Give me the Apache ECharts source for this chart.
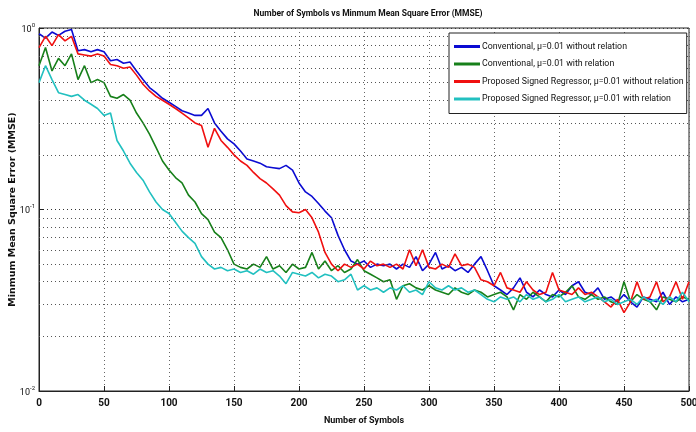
<!DOCTYPE html>
<html>
<head>
<meta charset="utf-8">
<script src="https://cdn.jsdelivr.net/npm/echarts@6/dist/echarts.min.js"></script>
<style>
  html, body { margin: 0; padding: 0; background: #fff; }
  #chart { width: 696px; height: 432px; }
</style>
</head>
<body>
<div id="chart"></div>
<script>
// Number of symbols, sampled every 5 symbols (0..500)
const symbols = Array.from({ length: 101 }, (_, i) => i * 5);

const seriesNames = [
  'Conventional, \u03bc=0.01 without relation',
  'Conventional, \u03bc=0.01 with relation',
  'Proposed Signed Regressor, \u03bc=0.01 without relation',
  'Proposed Signed Regressor, \u03bc=0.01 with relation'
];

const convWithout = [
  0.93, 0.88, 0.95, 0.91, 0.96, 0.98, 0.75, 0.76, 0.74, 0.76,
  0.74, 0.66, 0.67, 0.64, 0.65, 0.58, 0.52, 0.47, 0.44, 0.41,
  0.39, 0.37, 0.35, 0.34, 0.33, 0.33, 0.36, 0.30, 0.27, 0.245,
  0.23, 0.21, 0.19, 0.185, 0.18, 0.172, 0.17, 0.168, 0.175, 0.165,
  0.14, 0.125, 0.118, 0.108, 0.098, 0.09, 0.072, 0.06, 0.052, 0.05,
  0.052, 0.048, 0.05, 0.049, 0.05, 0.047, 0.05, 0.048, 0.055, 0.046,
  0.05, 0.058, 0.047, 0.049, 0.046, 0.048, 0.045, 0.05, 0.055, 0.046,
  0.038, 0.036, 0.034, 0.037, 0.042, 0.035, 0.033, 0.036, 0.034, 0.033,
  0.036, 0.034, 0.038, 0.04, 0.035, 0.034, 0.037, 0.032, 0.033, 0.031,
  0.034, 0.031, 0.029, 0.033, 0.032, 0.031, 0.035, 0.03, 0.033, 0.031,
  0.032
];

const convWith = [
  0.62, 0.78, 0.58, 0.68, 0.62, 0.72, 0.52, 0.62, 0.50, 0.52,
  0.50, 0.42, 0.41, 0.43, 0.40, 0.34, 0.30, 0.26, 0.22, 0.185,
  0.165, 0.15, 0.14, 0.12, 0.11, 0.095, 0.088, 0.075, 0.07, 0.06,
  0.05, 0.048, 0.047, 0.05, 0.048, 0.055, 0.047, 0.049, 0.045, 0.05,
  0.047, 0.048, 0.058, 0.047, 0.052, 0.046, 0.049, 0.045, 0.047, 0.053,
  0.046, 0.044, 0.042, 0.04, 0.041, 0.032, 0.038, 0.039, 0.037, 0.036,
  0.038, 0.036, 0.035, 0.034, 0.037, 0.035, 0.034, 0.036, 0.035, 0.033,
  0.034, 0.035, 0.033, 0.028, 0.034, 0.032, 0.035, 0.033, 0.031, 0.034,
  0.033, 0.035, 0.038, 0.033, 0.032, 0.034, 0.032, 0.033, 0.031, 0.030,
  0.04, 0.031, 0.034, 0.032, 0.031, 0.028, 0.033, 0.032, 0.031, 0.033,
  0.032
];

const signedWithout = [
  0.78, 0.90, 0.80, 0.92, 0.85, 0.90, 0.72, 0.71, 0.70, 0.72,
  0.70, 0.63, 0.62, 0.60, 0.61, 0.55, 0.49, 0.45, 0.42, 0.40,
  0.38, 0.36, 0.34, 0.32, 0.30, 0.29, 0.22, 0.28, 0.24, 0.22,
  0.20, 0.185, 0.175, 0.16, 0.148, 0.14, 0.13, 0.12, 0.105, 0.097,
  0.096, 0.10, 0.09, 0.075, 0.058, 0.05, 0.046, 0.05, 0.048, 0.05,
  0.047, 0.052, 0.049, 0.05, 0.048, 0.05, 0.047, 0.06, 0.049, 0.06,
  0.048, 0.047, 0.05, 0.048, 0.057, 0.049, 0.05, 0.048, 0.041, 0.04,
  0.038, 0.045, 0.037, 0.036, 0.035, 0.04, 0.036, 0.034, 0.035, 0.045,
  0.036, 0.035, 0.034, 0.037, 0.034, 0.035, 0.033, 0.031, 0.029, 0.032,
  0.027, 0.031, 0.04, 0.032, 0.033, 0.04, 0.031, 0.033, 0.04, 0.032,
  0.04
];

const signedWith = [
  0.50, 0.62, 0.52, 0.44, 0.43, 0.42, 0.43, 0.40, 0.38, 0.36,
  0.33, 0.34, 0.24, 0.21, 0.18, 0.16, 0.145, 0.125, 0.11, 0.10,
  0.095, 0.085, 0.076, 0.07, 0.065, 0.055, 0.05, 0.047, 0.048, 0.046,
  0.047, 0.045, 0.046, 0.044, 0.047, 0.045, 0.046, 0.043, 0.039, 0.045,
  0.044, 0.043, 0.045, 0.042, 0.044, 0.043, 0.04, 0.041, 0.044, 0.036,
  0.038, 0.036, 0.037, 0.035, 0.037, 0.036, 0.038, 0.035, 0.036, 0.034,
  0.04, 0.037, 0.036, 0.038, 0.036, 0.037, 0.035, 0.036, 0.034, 0.032,
  0.031, 0.033, 0.032, 0.033, 0.031, 0.034, 0.032, 0.033, 0.031, 0.032,
  0.034, 0.031, 0.032, 0.033, 0.031, 0.032, 0.033, 0.031, 0.032, 0.030,
  0.031, 0.032, 0.030, 0.033, 0.031, 0.032, 0.030, 0.033, 0.031, 0.035,
  0.031
];

// Log-decade minor grid values (2..9 in each decade)
const minorGrid = [0.02, 0.03, 0.04, 0.05, 0.06, 0.07, 0.08, 0.09,
                   0.2, 0.3, 0.4, 0.5, 0.6, 0.7, 0.8, 0.9];

const colors = ['#0b0bd2', '#17801a', '#f01010', '#22c0c0'];
const font = "Roboto, 'Liberation Sans', sans-serif";

const allData = [convWithout, convWith, signedWithout, signedWith];

const series = allData.map((vals, i) => ({
  name: seriesNames[i],
  type: 'line',
  data: symbols.map((s, k) => [s, vals[k]]),
  showSymbol: false,
  lineStyle: { color: colors[i], width: 1.6 },
  itemStyle: { color: colors[i] },
  animation: false,
  z: 3 + i
}));

// dotted minor grid on the log axis
series[0].markLine = {
  silent: true,
  symbol: 'none',
  label: { show: false },
  lineStyle: { color: '#555', type: [1, 3], width: 1 },
  data: minorGrid.map(v => ({ yAxis: v }))
};

const chart = echarts.init(document.getElementById('chart'), null, { renderer: 'canvas' });

chart.setOption({
  backgroundColor: '#fff',
  animation: false,
  title: {
    text: 'Number of Symbols vs Minmum Mean Square Error (MMSE)',
    left: 363,
    textAlign: 'center',
    top: 4,
    textStyle: { fontFamily: font, fontSize: 8.5, fontWeight: 'bold', color: '#111' }
  },
  legend: {
    orient: 'vertical',
    left: 449,
    top: 33,
    z: 20,
    padding: [7, 3, 8, 5],
    itemGap: 4.5,
    itemWidth: 26,
    itemHeight: 3,
    icon: 'rect',
    backgroundColor: '#fff',
    borderColor: '#222',
    borderWidth: 1,
    textStyle: { fontFamily: font, fontSize: 8.8, lineHeight: 13, color: '#111', padding: [0, 0, 0, -3] },
    data: seriesNames
  },
  grid: {
    left: 39, right: 7, top: 28, bottom: 41,
    containLabel: false, outerBoundsMode: 'none',
    show: true, borderColor: '#222', borderWidth: 1
  },
  xAxis: {
    type: 'value',
    min: 0,
    max: 500,
    interval: 50,
    name: 'Number of Symbols',
    nameLocation: 'middle',
    nameGap: 25,
    nameMoveOverlap: false,
    nameTextStyle: { fontFamily: font, fontSize: 9, fontWeight: 'bold', color: '#111' },
    axisLine: { show: true, lineStyle: { color: '#222' } },
    axisTick: { inside: true, length: 5, lineStyle: { color: '#222' } },
    axisLabel: { fontFamily: font, fontSize: 10, fontWeight: 'bold', color: '#111', margin: 7 },
    splitLine: { show: true, lineStyle: { color: '#666', type: [1, 3] } }
  },
  yAxis: {
    type: 'log',
    logBase: 10,
    min: 0.01,
    max: 1,
    name: 'Minmum Mean Square Error (MMSE)',
    nameLocation: 'middle',
    nameGap: 21,
    nameMoveOverlap: false,
    nameRotate: 90,
    nameTextStyle: { fontFamily: 'DejaVu Sans', fontSize: 9.5, fontWeight: 'bold', color: '#111' },
    axisLine: { show: true, lineStyle: { color: '#222' } },
    axisTick: { inside: true, length: 5, lineStyle: { color: '#222' } },
    axisLabel: {
      margin: 4,
      formatter: v => {
        const e = Math.round(Math.log10(v));
        return '{b|10}{s|' + e + '}';
      },
      rich: {
        b: { fontFamily: font, fontSize: 9, color: '#111', verticalAlign: 'bottom' },
        s: { fontFamily: font, fontSize: 6, color: '#111', verticalAlign: 'top', padding: [0, 0, 6, 0] }
      }
    },
    splitLine: { show: true, lineStyle: { color: '#333', type: [1, 3] } }
  },
  series
});
</script>
</body>
</html>
